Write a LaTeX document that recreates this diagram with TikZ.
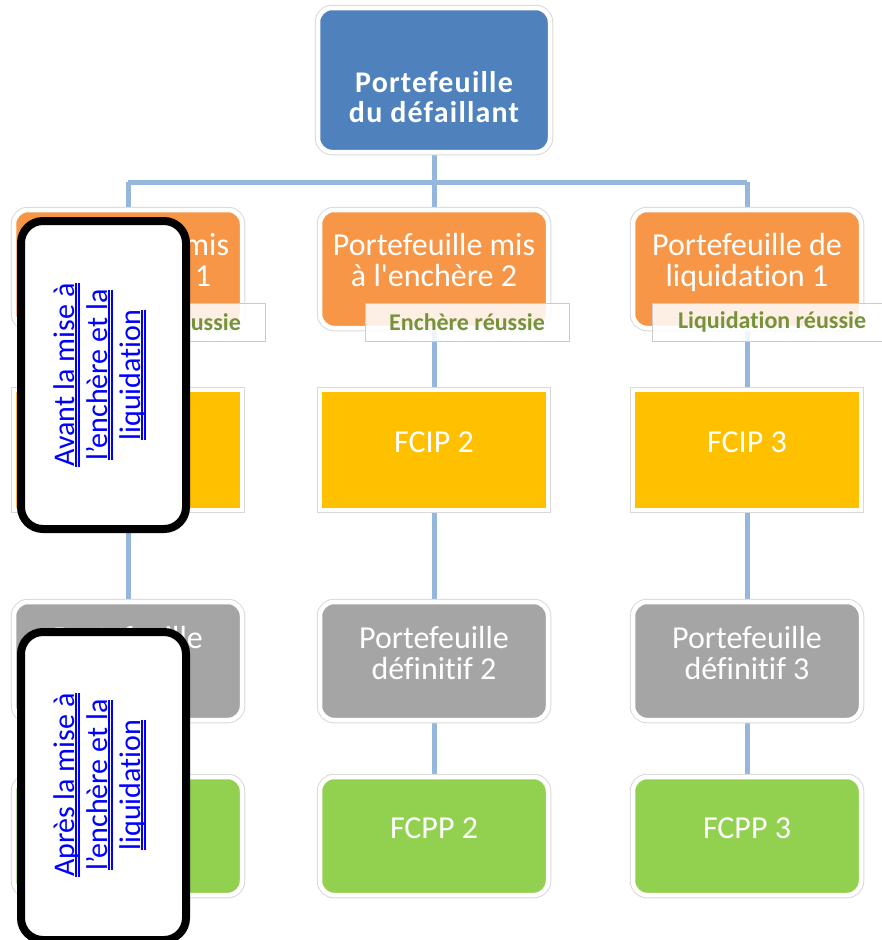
\documentclass[tikz,border=0pt]{standalone}
\usepackage{fontspec}
\setmainfont{Carlito}[Ligatures={TeXOff,NoCommon}]
\usetikzlibrary{backgrounds}
\definecolor{cblue}{RGB}{79,129,189}
\definecolor{corange}{RGB}{247,150,70}
\definecolor{cyellow}{RGB}{255,192,0}
\definecolor{cgray}{RGB}{165,165,165}
\definecolor{cgreen}{RGB}{146,208,80}
\definecolor{cconn}{RGB}{149,183,222}
\definecolor{lgreen}{RGB}{118,146,60}
\definecolor{linkblue}{RGB}{0,0,255}
\newcommand\dul[1]{\setbox0=\hbox{#1}\rlap{\rule[-2pt]{\wd0}{1.3pt}}\rlap{\rule[-5pt]{\wd0}{1.3pt}}\box0}
\tikzset{
  box/.style={minimum width=228pt, minimum height=118pt, inner sep=0pt,
    draw=white, line width=4.5pt, rounded corners=14pt,
    preaction={draw=black!15, line width=6.5pt}},
  sqbox/.style={box, sharp corners, minimum height=120pt},
  conn/.style={draw=cconn, line width=5pt},
  txt/.style={anchor=base, text=white, inner sep=0pt, font=\fontsize{32}{30}\selectfont},
  ttl/.style={anchor=base, text=white, inner sep=0pt, font=\fontsize{30}{30}\selectfont\bfseries\addfontfeature{LetterSpace=4}},
  lab/.style={minimum width=204pt, minimum height=38pt, inner sep=0pt,
    fill=white, fill opacity=0.85, text opacity=1, draw=black!20, line width=1pt,
    text=lgreen, font=\fontsize{24}{28}\selectfont\bfseries},
  blackbox/.style={minimum width=165pt, minimum height=308pt, inner sep=0pt,
    draw=black, line width=8pt, fill=white, rounded corners=22pt},
  linktxt/.style={rotate=90, inner sep=0pt, text=linkblue, font=\fontsize{30}{33}\selectfont}
}
\begin{document}
\begin{tikzpicture}[x=1pt, y=-1pt]
\useasboundingbox (0,0) rectangle (882,940);
% top
\node[box, fill=cblue, minimum width=232pt, minimum height=144pt] (top) at (434,80) {};
\node[ttl] (toptxt) at (434,92) {\begin{tabular}[t]{@{}c@{}}Portefeuille\\du défaillant\end{tabular}};
\coordinate (bus) at (434,182);
% orange row
\node[box, fill=corange] (o1) at (128,269) {};
\node[box, fill=corange] (o2) at (434,269) {};
\node[box, fill=corange] (o3) at (747,269) {};
\node[txt] (o1t) at (128,255) {\begin{tabular}[t]{@{}c@{}}Portefeuille mis\\à l'enchère 1\end{tabular}};
\node[txt] (o2t) at (434,255) {\begin{tabular}[t]{@{}c@{}}Portefeuille mis\\à l'enchère 2\end{tabular}};
\node[txt] (o3t) at (747,255) {\begin{tabular}[t]{@{}c@{}}Portefeuille de\\liquidation 1\end{tabular}};
\node[lab] (l1) at (163,322) {Enchère réussie};
\node[lab] (l2) at (467,322) {Enchère réussie};
\node[lab, minimum width=240pt] (l3) at (772,322) {Liquidation réussie};
% yellow row
\node[sqbox, fill=cyellow] (y1) at (128,450) {};
\node[sqbox, fill=cyellow] (y2) at (434,450) {};
\node[sqbox, fill=cyellow] (y3) at (747,450) {};
\node[txt] (y1t) at (128,452) {FCIP 1};
\node[txt] (y2t) at (434,452) {FCIP 2};
\node[txt] (y3t) at (747,452) {FCIP 3};
% gray row
\node[box, fill=cgray] (g1) at (128,661) {};
\node[box, fill=cgray] (g2) at (434,661) {};
\node[box, fill=cgray] (g3) at (747,661) {};
\node[txt] (g1t) at (128,648) {\begin{tabular}[t]{@{}c@{}}Portefeuille\\définitif 1\end{tabular}};
\node[txt] (g2t) at (434,648) {\begin{tabular}[t]{@{}c@{}}Portefeuille\\définitif 2\end{tabular}};
\node[txt] (g3t) at (747,648) {\begin{tabular}[t]{@{}c@{}}Portefeuille\\définitif 3\end{tabular}};
% green row
\node[box, fill=cgreen] (p1) at (128,836) {};
\node[box, fill=cgreen] (p2) at (434,836) {};
\node[box, fill=cgreen] (p3) at (747,836) {};
\node[txt] (p1t) at (128,838) {FCPP 1};
\node[txt] (p2t) at (434,838) {FCPP 2};
\node[txt] (p3t) at (747,838) {FCPP 3};
% connectors
\begin{scope}[on background layer]
  \draw[conn] (top.south) -- (bus);
  \draw[conn] (o1.north |- bus) -- (o3.north |- bus);
  \foreach \i in {1,2,3} {
    \draw[conn] (o\i.north |- bus) -- (o\i.north);
    \draw[conn] (o\i) -- (y\i);
    \draw[conn] (y\i) -- (g\i);
    \draw[conn] (g\i) -- (p\i);
  }
\end{scope}
% black overlay boxes
\node[blackbox] (ba) at (103.5,375) {};
\node[linktxt] (bat) at (101,375) {\begin{tabular}{@{}c@{}}\dul{Avant la mise à}\\\dul{l’enchère et la}\\\dul{liquidation}\end{tabular}};
\node[blackbox] (bb) at (103.5,786) {};
\node[linktxt] (bbt) at (101,785) {\begin{tabular}{@{}c@{}}\dul{Après la mise à}\\\dul{l’enchère et la}\\\dul{liquidation}\end{tabular}};
\end{tikzpicture}
\end{document}
